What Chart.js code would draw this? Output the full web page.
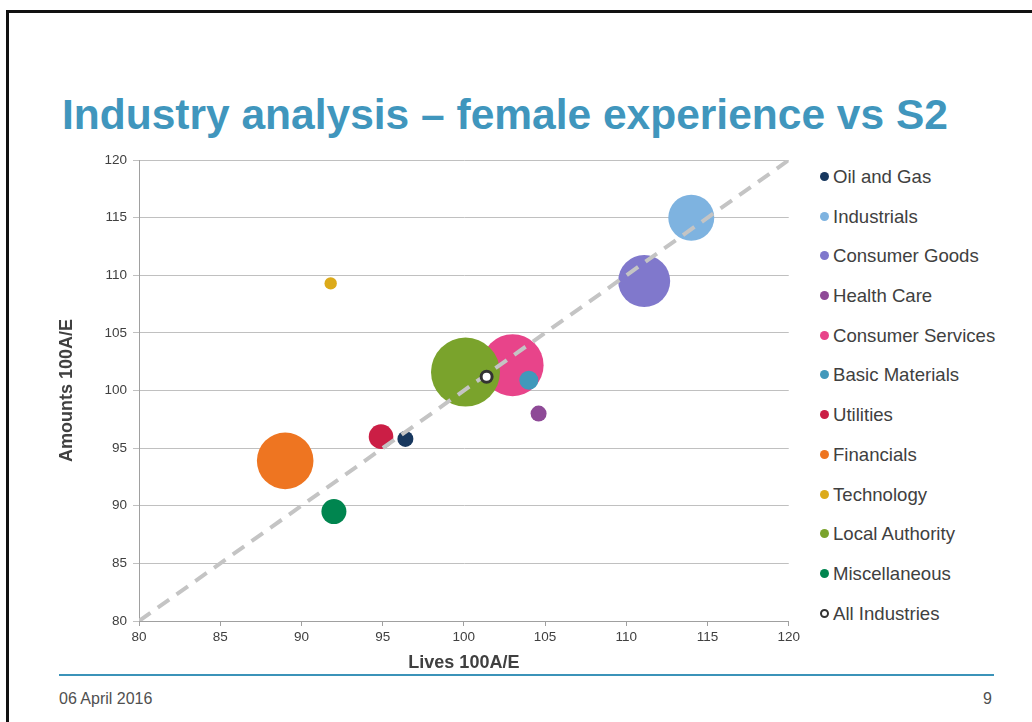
<!DOCTYPE html>
<html>
<head>
<meta charset="utf-8">
<script src="https://cdn.jsdelivr.net/npm/chart.js@4/dist/chart.umd.min.js"></script>
<style>
	body { margin:0; background:#fff; width:1032px; height:722px; position:relative; overflow:hidden; font-family:"Liberation Sans", Arial, sans-serif; }
	#frameTop { position:absolute; left:6px; top:10px; width:1026px; height:3px; background:#111; }
	#frameLeft { position:absolute; left:6px; top:10px; width:3px; height:712px; background:#111; }
	#title { position:absolute; left:62px; top:93px; font-size:42.5px; line-height:43px; font-weight:bold; color:#4096bd; white-space:nowrap; }
	#chartBox { position:absolute; left:54px; top:146px; width:749px; height:530px; }
	#legend { position:absolute; left:820px; top:165px; }
	.leg { height:39.7px; line-height:24px; font-size:18.6px; color:#404040; white-space:nowrap; }
	.dot { display:inline-block; width:9px; height:9px; border-radius:50%; margin-right:4px; vertical-align:2px; box-sizing:border-box; }
	#footLine { position:absolute; left:59px; top:674px; width:935px; height:2px; background:#3b93b9; }
	#footDate { position:absolute; left:59px; top:691px; font-size:16px; line-height:16px; color:#505050; }
	#footPage { position:absolute; right:40px; top:691px; font-size:16px; line-height:16px; color:#505050; }
</style>
</head>
<body>
<div id="frameTop"></div>
<div id="frameLeft"></div>
<div id="title">Industry analysis – female experience vs S2</div>
<div id="chartBox"><canvas id="chart" width="749" height="530"></canvas></div>
<div id="legend"></div>
<div id="footLine"></div>
<div id="footDate">06 April 2016</div>
<div id="footPage">9</div>
<script>
// industry experience vs S2 (100 = S2)
var industries = ["Oil and Gas", "Industrials", "Consumer Goods", "Health Care", "Consumer Services",
	"Basic Materials", "Utilities", "Financials", "Technology", "Local Authority", "Miscellaneous", "All Industries"];
var livesAE   = [96.4, 114.0, 111.1, 104.6, 103.0, 104.0, 94.9, 89.0, 91.8, 100.1, 92.0, 101.4];
var amountsAE = [95.8, 115.0, 109.5,  98.0, 102.2, 100.9, 96.0, 93.9, 109.3, 101.6, 89.5, 101.2];
var bubbleSize = [8, 23, 26, 8, 31, 9.5, 12.3, 28.3, 6.2, 34.5, 12.5, 5.5];
var colours = ["#17375e", "#7eb3e0", "#8078cc", "#8e4a97", "#e8448a",
	"#4198bb", "#cb1e45", "#ee7521", "#dcaa1a", "#7aa32c", "#00854f", "#ffffff"];
var refLine = [80, 120]; // 100% line
var axisTicks = [80, 85, 90, 95, 100, 105, 110, 115, 120];

var datasets = [];
for (var i = 0; i < industries.length; i++) {
	var allInd = industries[i] == "All Industries";
	datasets.push({
		type: 'bubble',
		label: industries[i],
		data: [{x: livesAE[i], y: amountsAE[i], r: bubbleSize[i]}],
		backgroundColor: colours[i],
		borderColor: allInd ? "#333333" : colours[i],
		borderWidth: allInd ? 3 : 0,
		order: allInd ? 1 : 100 - i
	});
}
datasets.push({
	type: 'line',
	label: 'S2',
	data: [{x: refLine[0], y: refLine[0]}, {x: refLine[1], y: refLine[1]}],
	borderColor: "#c4c4c4",
	borderWidth: 4,
	borderDash: [14, 9],
	pointRadius: 0,
	fill: false,
	order: 2
});

var tickFont = {family: "Liberation Sans", size: 13.5};
var titleFont = {family: "Liberation Sans", size: 18, weight: 'bold'};

new Chart(document.getElementById('chart').getContext('2d'), {
	type: 'bubble',
	data: { datasets: datasets },
	options: {
		responsive: false,
		animation: false,
		layout: { autoPadding: false, padding: {top: 10, right: 10, left: 0, bottom: 0} },
		plugins: { legend: {display: false}, tooltip: {enabled: false} },
		scales: {
			x: {
				type: 'linear', min: 80, max: 120,
				afterBuildTicks: function(s) { s.ticks = axisTicks.map(function(v) { return {value: v}; }); },
				afterFit: function(s) { s.height = 55; },
				grid: { drawOnChartArea: false, drawTicks: true, tickLength: 5, tickColor: "#a0a0a0" },
				border: { color: "#a0a0a0" },
				ticks: { font: tickFont, color: "#404040", padding: 3, maxRotation: 0 },
				title: { display: true, text: "Lives 100A/E", font: titleFont, color: "#404040", padding: {top: 2, bottom: 2} }
			},
			y: {
				type: 'linear', min: 80, max: 120,
				afterBuildTicks: function(s) { s.ticks = axisTicks.map(function(v) { return {value: v}; }); },
				afterFit: function(s) { s.width = 85; },
				grid: { color: "#c0c0c0", tickLength: 6, tickColor: "#c0c0c0" },
				border: { color: "#a0a0a0" },
				ticks: { font: tickFont, color: "#404040", padding: 6 },
				title: { display: true, text: "Amounts 100A/E", font: titleFont, color: "#404040", padding: {top: 2, bottom: 2} }
			}
		}
	}
});

// legend
var legend = document.getElementById('legend');
industries.forEach(function(name, i) {
	var row = document.createElement("div");
	row.className = "leg";
	var dot = document.createElement("span");
	dot.className = "dot";
	if (name == "All Industries") {
		dot.style.border = "2.5px solid #333";
		dot.style.background = "#fff";
	} else {
		dot.style.background = colours[i];
	}
	row.appendChild(dot);
	row.appendChild(document.createTextNode(name));
	legend.appendChild(row);
});
</script>
</body>
</html>
